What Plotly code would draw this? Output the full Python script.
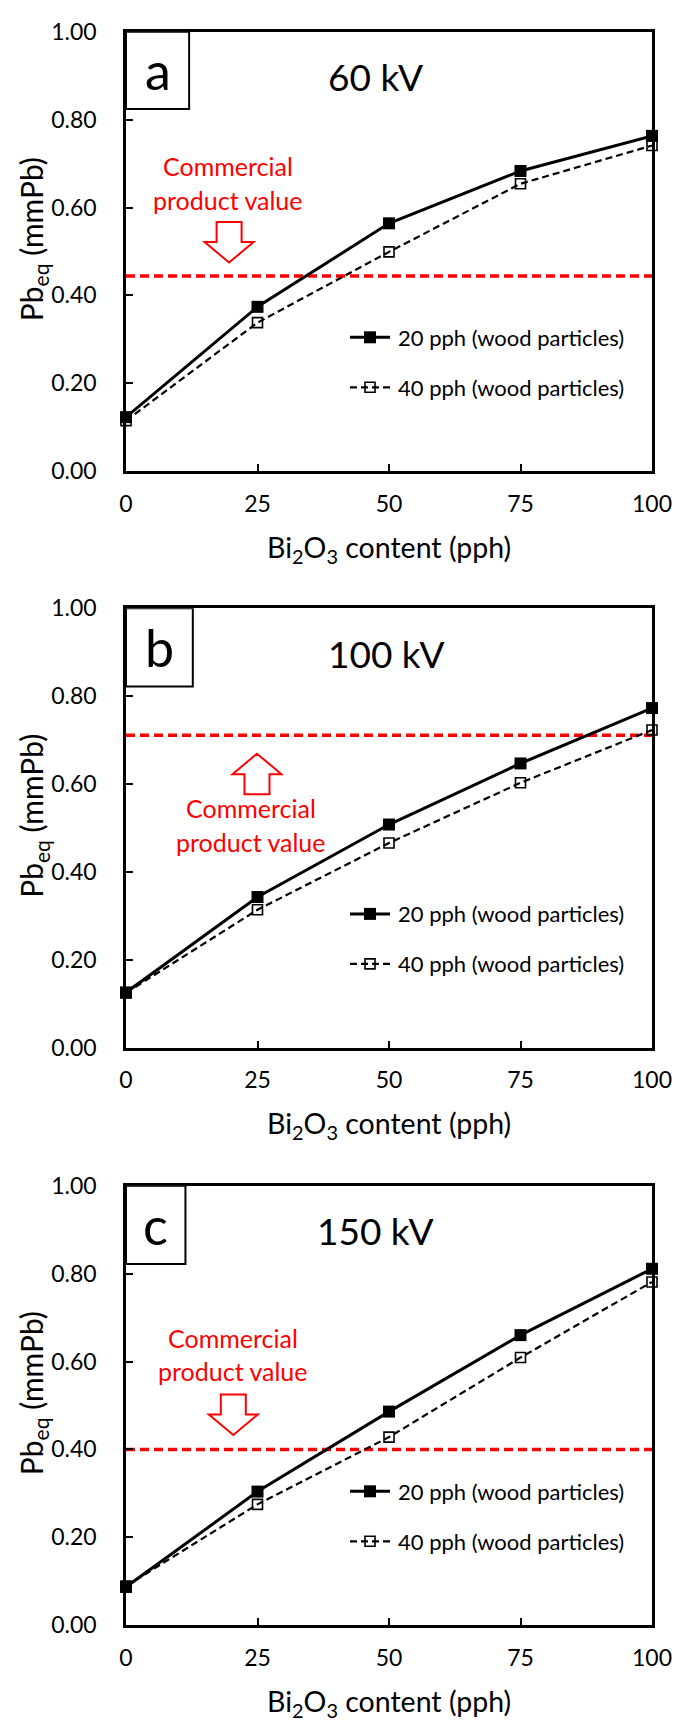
import plotly.graph_objects as go

# ---------------- data ----------------
bi2o3_pph = [0, 25, 50, 75, 100]
x_ticks = [0, 25, 50, 75, 100]
y_ticks = [0.0, 0.2, 0.4, 0.6, 0.8, 1.0]
panel_letters = ["a", "b", "c"]
voltages = ["60 kV", "100 kV", "150 kV"]
series_names = ["20 pph (wood particles)", "40 pph (wood particles)"]

pb_60kV_20pph = [0.123, 0.374, 0.564, 0.683, 0.763]
pb_60kV_40pph = [0.115, 0.338, 0.499, 0.654, 0.741]
pb_100kV_20pph = [0.126, 0.343, 0.508, 0.647, 0.773]
pb_100kV_40pph = [0.125, 0.314, 0.466, 0.603, 0.723]
pb_150kV_20pph = [0.087, 0.304, 0.486, 0.660, 0.811]
pb_150kV_40pph = [0.089, 0.275, 0.428, 0.609, 0.781]
commercial_value = [0.444, 0.711, 0.400]

series_20 = [pb_60kV_20pph, pb_100kV_20pph, pb_150kV_20pph]
series_40 = [pb_60kV_40pph, pb_100kV_40pph, pb_150kV_40pph]

# ---------------- layout constants ----------------
PAGE_W, PAGE_H = 685, 1733
OFF = 8                      # default body margin of the html page
W, H = PAGE_W - 2 * OFF, PAGE_H - 2 * OFF
FONT = "Lato, Carlito, 'Open Sans', sans-serif"


def fx(px):  # page px -> paper x
    return (px - OFF) / W


def fy(py):  # page px -> paper y
    return 1 - (py - OFF) / H


plot_left, plot_right = 126, 652
plot_tops = [31.7, 608.3, 1185.7]
plot_h = 439.5
px_x = 100.0 / (plot_right - plot_left)   # data units per px (x)
px_y = 1.0 / plot_h                        # data units per px (y)

label_box_right = [12.0, 12.7, 11.3]
label_box_bottom = [0.824, 0.822, 0.822]
voltage_pos = [(47.5, 0.898), (49.6, 0.897), (47.5, 0.897)]
note_pos = [  # x centre, y of "Commercial", y of "product value"
    (19.4, 0.695, 0.618),
    (23.8, 0.545, 0.468),
    (20.3, 0.654, 0.579),
]
arrow_spec = [  # x centre, y of flat end, direction
    (19.6, 0.567, "down"),
    (24.9, 0.577, "up"),
    (20.4, 0.525, "down"),
]
legend_rows = [305.6, 355.6]   # px below plot top
legend_line = (350, 390)       # page px
legend_marker_x = 370
legend_text_x = 395.5

fig = go.Figure()
annotations = []
shapes = []


def arrow_path(xc, y0, direction):
    shaft_hw = 12.5 * px_x
    head_hw = 24.5 * px_x
    shaft_len = 20 * px_y
    head_len = 20.5 * px_y
    s = -1 if direction == "down" else 1
    y1 = y0 + s * shaft_len
    y2 = y1 + s * head_len
    pts = [
        (xc - shaft_hw, y0), (xc + shaft_hw, y0), (xc + shaft_hw, y1),
        (xc + head_hw, y1), (xc, y2), (xc - head_hw, y1), (xc - shaft_hw, y1),
    ]
    return "M " + " L ".join(f"{x:.4f},{y:.4f}" for x, y in pts) + " Z"


for i in range(3):
    sfx = "" if i == 0 else str(i + 1)
    xa, ya = f"x{sfx}", f"y{sfx}"
    top = plot_tops[i]
    bottom = top + plot_h

    fig.update_layout(**{
        f"xaxis{sfx}": dict(
            domain=[fx(plot_left), fx(plot_right)], range=[0, 100], anchor=ya,
            tickvals=x_ticks, ticks="inside", ticklen=7, tickwidth=2,
            tickcolor="black", showline=True, mirror=True, linewidth=2.5,
            linecolor="black", showgrid=False, zeroline=False, automargin=False,
            tickfont=dict(family=FONT, size=23, color="black"),
            ticklabelstandoff=10, fixedrange=True,
        ),
        f"yaxis{sfx}": dict(
            domain=[fy(bottom), fy(top)], range=[0, 1], anchor=xa,
            tickvals=y_ticks, tickformat=".2f", ticks="inside", ticklen=7,
            tickwidth=2, tickcolor="black", showline=True, mirror=True,
            linewidth=2.5, linecolor="black", showgrid=False, zeroline=False,
            automargin=False,
            tickfont=dict(family=FONT, size=23, color="black"),
            ticklabelstandoff=22, fixedrange=True,
        ),
    })

    # commercial product value reference line
    fig.add_trace(go.Scatter(
        x=[bi2o3_pph[0], bi2o3_pph[-1]], y=[commercial_value[i]] * 2,
        mode="lines", line=dict(color="#ff0000", width=3.5, dash="9px,5px"),
        showlegend=False, hoverinfo="skip", xaxis=xa, yaxis=ya,
    ))
    fig.add_trace(go.Scatter(
        x=bi2o3_pph, y=series_40[i], name=series_names[1],
        mode="lines+markers", line=dict(color="black", width=2.2, dash="7px,4px"),
        marker=dict(symbol="square-open", size=10, color="black",
                    line=dict(width=1.6, color="black")),
        cliponaxis=False, xaxis=xa, yaxis=ya, showlegend=False,
    ))
    fig.add_trace(go.Scatter(
        x=bi2o3_pph, y=series_20[i], name=series_names[0],
        mode="lines+markers", line=dict(color="black", width=3),
        marker=dict(symbol="square", size=12, color="black"),
        cliponaxis=False, xaxis=xa, yaxis=ya, showlegend=False,
    ))

    # legend (drawn at page pixel positions)
    for k, row in enumerate(legend_rows):
        yy = fy(top + row)
        if k == 0:
            shapes.append(dict(type="line", xref="paper", yref="paper",
                               x0=fx(legend_line[0]), x1=fx(legend_line[1]), y0=yy, y1=yy,
                               line=dict(color="black", width=3)))
            shapes.append(dict(type="rect", xref="paper", yref="paper",
                               x0=fx(legend_marker_x - 6), x1=fx(legend_marker_x + 6),
                               y0=yy - 6 / H, y1=yy + 6 / H,
                               line=dict(color="black", width=0), fillcolor="black"))
        else:
            shapes.append(dict(type="line", xref="paper", yref="paper",
                               x0=fx(legend_line[0]), x1=fx(legend_line[1]), y0=yy, y1=yy,
                               line=dict(color="black", width=2.2, dash="7px,4px")))
            shapes.append(dict(type="rect", xref="paper", yref="paper",
                               x0=fx(legend_marker_x - 5), x1=fx(legend_marker_x + 5),
                               y0=yy - 5 / H, y1=yy + 5 / H,
                               line=dict(color="black", width=1.6),
                               fillcolor="rgba(0,0,0,0)"))
        annotations.append(dict(
            xref="paper", yref="paper", x=fx(legend_text_x), y=yy,
            xanchor="left", yanchor="middle", text=series_names[k], showarrow=False,
            font=dict(family=FONT, size=22, color="black"),
        ))

    # panel letter box
    shapes.append(dict(type="rect", xref=xa, yref=ya, x0=0, x1=label_box_right[i],
                       y0=label_box_bottom[i], y1=1,
                       line=dict(color="black", width=2), fillcolor="white", layer="above"))
    annotations.append(dict(
        xref=xa, yref=ya, x=label_box_right[i] / 2, y=(1 + label_box_bottom[i]) / 2,
        text=panel_letters[i], showarrow=False,
        font=dict(family=FONT, size=52, color="black"),
    ))
    vx, vy = voltage_pos[i]
    annotations.append(dict(
        xref=xa, yref=ya, x=vx, y=vy, text=voltages[i], showarrow=False,
        font=dict(family=FONT, size=37, color="black"),
    ))
    nx, ny1, ny2 = note_pos[i]
    for txt, yy in (("Commercial", ny1), ("product value", ny2)):
        annotations.append(dict(
            xref=xa, yref=ya, x=nx, y=yy, text=txt, showarrow=False,
            font=dict(family=FONT, size=25, color="#ff0000"),
        ))
    ax_, ay_, adir = arrow_spec[i]
    shapes.append(dict(type="path", xref=xa, yref=ya, path=arrow_path(ax_, ay_, adir),
                       line=dict(color="#ff0000", width=2), fillcolor="white"))

    # axis titles
    annotations.append(dict(
        xref=f"{xa} domain", yref=f"{ya} domain", x=0.5, y=-77.5 / plot_h,
        text="Bi<sub>2</sub>O<sub>3</sub> content (pph)", showarrow=False,
        yanchor="middle", font=dict(family=FONT, size=28.5, color="black"),
    ))
    annotations.append(dict(
        xref=f"{xa} domain", yref=f"{ya} domain", x=-93 / (plot_right - plot_left),
        y=0.528, text="Pb<sub>eq</sub> (mmPb)", showarrow=False, textangle=-90,
        xanchor="center", yanchor="middle",
        font=dict(family=FONT, size=30, color="black"),
    ))

fig.update_layout(
    width=W, height=H, margin=dict(l=0, r=0, t=0, b=0, autoexpand=False),
    paper_bgcolor="white", plot_bgcolor="white", template="none",
    font=dict(family=FONT, color="black"),
    annotations=annotations, shapes=shapes, showlegend=False,
)

fig.write_html("out.html")
